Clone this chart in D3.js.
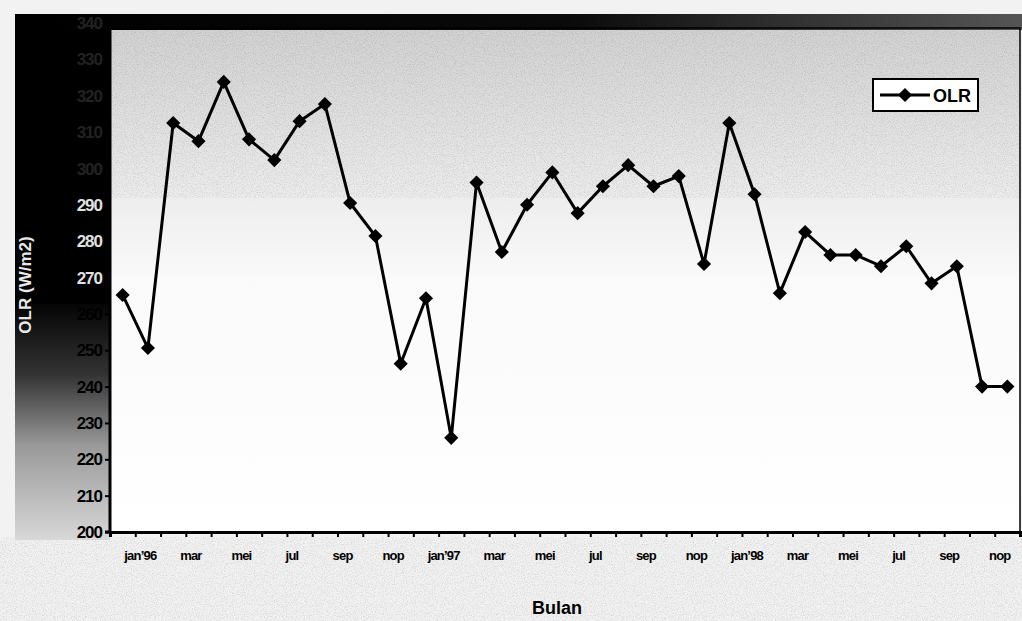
<!DOCTYPE html>
<html><head><meta charset="utf-8">
<script src="https://cdn.jsdelivr.net/npm/d3@7"></script>
<style>body{margin:0;background:#f4f4f4;}svg{display:block;}</style>
</head><body>
<svg id="c" width="1022" height="621"></svg>
<script>
const months = ["jan'96","feb","mar","apr","mei","jun","jul","agu","sep","okt","nop","des",
  "jan'97","feb","mar","apr","mei","jun","jul","agu","sep","okt","nop","des",
  "jan'98","feb","mar","apr","mei","jun","jul","agu","sep","okt","nop","des"];
const olr = [265.2,250.6,312.5,307.5,323.8,308.0,302.3,313.0,317.7,290.5,281.4,246.3,
  264.3,225.9,296.1,277.0,290.0,298.9,287.7,295.1,300.9,295.1,297.9,273.7,
  312.5,292.9,265.7,282.5,276.2,276.2,273.1,278.6,268.4,273.1,240.0,240.0];
const tickLabelIdx = [0,2,4,6,8,10,12,14,16,18,20,22,24,26,28,30,32,34];
const yTicks = [200,210,220,230,240,250,260,270,280,290,300,310,320,330,340];

const FONT = "Liberation Sans, Arial, sans-serif";
const svg = d3.select("#c");
const L = 110, R = 1020, T = 28, B = 532;
const defs = svg.append("defs");
const f = defs.append("filter").attr("id","noise").attr("filterUnits","userSpaceOnUse")
  .attr("x",0).attr("y",0).attr("width",1022).attr("height",621);
f.append("feTurbulence").attr("type","fractalNoise").attr("baseFrequency",0.9).attr("numOctaves",2).attr("seed",3);
f.append("feColorMatrix").attr("values","0 0 0 0 0  0 0 0 0 0  0 0 0 0 0  0 0 0 -2.2 1.25");
f.append("feComposite").attr("in2","SourceGraphic").attr("operator","in");
const gl = defs.append("linearGradient").attr("id","gl").attr("x1",0).attr("y1",0).attr("x2",0).attr("y2",1);
[[0,"#050505"],[0.3,"#333"],[0.6,"#999"],[1,"#d8d8d8"]].forEach(s=>gl.append("stop").attr("offset",s[0]).attr("stop-color",s[1]));
const gt = defs.append("linearGradient").attr("id","gt").attr("x1",0).attr("y1",0).attr("x2",1).attr("y2",0);
[[0,"#000"],[0.55,"#0a0a0a"],[0.78,"#333"],[1,"#555"]].forEach(s=>gt.append("stop").attr("offset",s[0]).attr("stop-color",s[1]));
const gp = defs.append("linearGradient").attr("id","gp").attr("x1",0).attr("y1",0).attr("x2",0).attr("y2",1);
[[0,"#d2d2d2"],[0.25,"#e6e6e6"],[0.5,"#fafafa"],[1,"#fff"]].forEach(s=>gp.append("stop").attr("offset",s[0]).attr("stop-color",s[1]));

// page background + noise
svg.append("rect").attr("width",1022).attr("height",621).attr("fill","#f2f2f2");
svg.append("rect").attr("x",0).attr("y",537).attr("width",1022).attr("height",84).attr("fill","#000").attr("opacity",0.12).attr("filter","url(#noise)");

// plot area
svg.append("rect").attr("x",L).attr("y",T).attr("width",R-L).attr("height",B-T).attr("fill","url(#gp)");
svg.append("rect").attr("x",L).attr("y",T).attr("width",R-L).attr("height",170).attr("fill","#000")
  .attr("opacity",0.12).attr("filter","url(#noise)");

// dark shadows of the photocopy
svg.append("rect").attr("x",15).attr("y",14).attr("width",95).attr("height",290).attr("fill","#000");
svg.append("rect").attr("x",15).attr("y",304).attr("width",95).attr("height",236).attr("fill","url(#gl)");
svg.append("rect").attr("x",15).attr("y",14).attr("width",1007).attr("height",16).attr("fill","url(#gt)");
svg.append("rect").attr("x",L).attr("y",T).attr("width",R-L).attr("height",B-T).attr("fill","none").attr("stroke","#000").attr("stroke-width",1.5);

const x = d3.scaleBand().domain(d3.range(months.length)).range([L,R]).padding(0);
const xi = d3.scaleLinear().domain([0,months.length]).range([L,R]);
const y = d3.scaleLinear().domain([200,340]).range([B,23]);
const cx = i => x(i) + x.bandwidth()/2;

// x axis
const xa = svg.append("g").attr("transform",`translate(0,${B})`)
  .call(d3.axisBottom(xi).tickValues(d3.range(months.length+1)).tickSize(5).tickFormat(""));
xa.select(".domain").attr("stroke-width",3);
xa.selectAll(".tick line").attr("stroke-width",2);
svg.append("g").selectAll("text").data(tickLabelIdx).join("text")
  .attr("x",i=>x(i)+x.bandwidth()*1.2).attr("y",B+28)
  .attr("text-anchor","middle")
  .style("font-family",FONT).style("font-weight","bold").style("font-size","13px").style("letter-spacing","-0.8px")
  .text(i=>months[i].replace("'","\u2019"));

// y axis (ticks from the axis, labels placed with the same scale)
const ya = svg.append("g").attr("transform",`translate(${L},0)`)
  .call(d3.axisLeft(y).tickValues(yTicks).tickSize(5).tickFormat(""));
ya.select(".domain").attr("stroke-width",3).attr("d",`M-5,${B}H0V23`);
ya.selectAll(".tick line").attr("stroke-width",2);
svg.append("g").selectAll("text").data(yTicks).join("text")
  .attr("x",L-8).attr("y",d=>y(d)).attr("dy","0.36em").attr("text-anchor","end")
  .style("font-family",FONT).style("font-weight","bold").style("font-size","17px").style("letter-spacing","-1px")
  .style("fill",d=> d>=300 ? "#222" : d>=270 ? "#e0e0e0" : "#000")
  .text(d=>d);

// titles
svg.append("text").attr("x",557).attr("y",614).attr("text-anchor","middle")
  .style("font-family",FONT).style("font-weight","bold").style("font-size","18px").text("Bulan");
svg.append("text").attr("transform","translate(31,285) rotate(-90)").attr("text-anchor","middle")
  .style("font-family",FONT).style("font-weight","bold").style("font-size","17px")
  .style("fill","#e8e8e8").text("OLR (W/m2)");

// line + markers
const line = d3.line().x((d,i)=>cx(i)).y(d=>y(d));
svg.append("path").datum(olr).attr("d",line).attr("fill","none").attr("stroke","#000").attr("stroke-width",3).attr("stroke-linejoin","round");
svg.append("g").selectAll("path").data(olr).join("path")
  .attr("transform",(d,i)=>`translate(${cx(i)},${y(d)}) rotate(45)`)
  .attr("d",d3.symbol().type(d3.symbolSquare).size(100)).attr("fill","#000");

// legend
const lg = svg.append("g");
lg.append("rect").attr("x",873).attr("y",79).attr("width",105).attr("height",32).attr("fill","#fff").attr("stroke","#000").attr("stroke-width",2);
lg.append("line").attr("x1",880).attr("x2",930).attr("y1",95).attr("y2",95).attr("stroke","#000").attr("stroke-width",3);
lg.append("path").attr("transform","translate(905,95) rotate(45)").attr("d",d3.symbol().type(d3.symbolSquare).size(100)).attr("fill","#000");
lg.append("text").attr("x",933).attr("y",102)
  .style("font-family",FONT).style("font-weight","bold").style("font-size","18px").text("OLR");
</script>
</body></html>
